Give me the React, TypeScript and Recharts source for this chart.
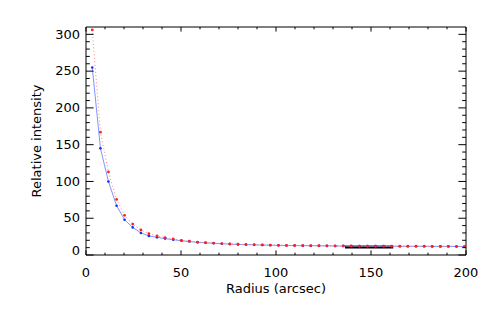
import React from 'react';
import { LineChart, Line, XAxis, YAxis, ReferenceLine, Label } from 'recharts';

const radius = [
  3.3, 7.6, 11.8, 16.1, 20.3, 24.6, 28.9, 33.1, 37.4, 41.6, 45.9, 50.2, 54.4, 58.7, 62.9, 67.2,
  71.5, 75.7, 80.0, 84.2, 88.5, 92.8, 97.0, 101.3, 105.5, 109.8, 114.1, 118.3, 122.6, 126.8,
  131.1, 135.4, 139.6, 143.9, 148.1, 152.4, 156.7, 160.9, 165.2, 169.4, 173.7, 178.0, 182.2,
  186.5, 190.7, 195.0, 199.3,
];
const redProfile = [
  306, 167, 113, 75.5, 54, 42, 34, 29, 26, 23.7, 21.8, 20, 18.8, 17.6, 16.9, 16.2,
  15.6, 15.1, 14.6, 14.3, 14.0, 13.7, 13.5, 13.2, 13.0, 12.9, 12.8, 12.7, 12.6, 12.5,
  12.4, 12.3, 12.3, 12.2, 12.2, 12.1, 12.1, 12.0, 12.0, 11.9, 11.9, 11.9, 11.8,
  11.8, 11.8, 11.7, 11.7,
];
const blueProfile = [
  255, 145, 100, 67, 48, 37.5, 30, 26, 24, 22.3, 20.8, 19.4, 18.3, 17.2, 16.5, 15.9,
  15.3, 14.8, 14.4, 14.1, 13.8, 13.5, 13.3, 13.1, 12.9, 12.8, 12.7, 12.6, 12.5, 12.4,
  12.3, 12.2, 12.2, 12.1, 12.1, 12.0, 12.0, 11.9, 11.9, 11.8, 11.8, 11.8, 11.7,
  11.7, 11.7, 11.6, 11.6,
];
const backgroundRange = [136.3, 161.7];
const backgroundLevel = 10.8;

const xTicks = [0, 10, 20, 30, 40, 50, 60, 70, 80, 90, 100, 110, 120, 130, 140, 150, 160, 170, 180, 190, 200];
const yTicks = [
  0, 10, 20, 30, 40, 50, 60, 70, 80, 90, 100, 110, 120, 130, 140, 150, 160, 170, 180, 190, 200,
  210, 220, 230, 240, 250, 260, 270, 280, 290, 300,
];

const data = radius.map((r, i) => ({ r, red: redProfile[i], blue: blueProfile[i] }));

const FONT = '"DejaVu Sans", sans-serif';

const renderBottomTick = (props: any) => {
  const { x, y, payload } = props;
  const major = payload.value % 50 === 0;
  return (
    <g key={`b-${payload.value}`}>
      <path d={`M${x},${y}V${y - (major ? 4.6 : 2.3)}`} stroke="#000" strokeWidth={1} fill="none" />
      {major && (
        <text x={x} y={y + 21.5} textAnchor="middle" fontSize={13} fontFamily={FONT} fill="#000">
          {payload.value}
        </text>
      )}
    </g>
  );
};

const renderTopTick = (props: any) => {
  const { x, y, payload } = props;
  const major = payload.value % 50 === 0;
  return (
    <path key={`t-${payload.value}`} d={`M${x},${y}V${y + (major ? 4.6 : 2.3)}`} stroke="#000" strokeWidth={1} fill="none" />
  );
};

const renderLeftTick = (props: any) => {
  const { x, y, payload } = props;
  const major = payload.value % 50 === 0;
  const shift = payload.value === 0 ? -4 : 0;
  return (
    <g key={`l-${payload.value}`}>
      <path d={`M${x},${y}H${x + (major ? 7.6 : 3.8)}`} stroke="#000" strokeWidth={1} fill="none" />
      {major && (
        <text x={x - 6} y={y + 4.2 + shift} textAnchor="end" fontSize={13} fontFamily={FONT} fill="#000">
          {payload.value}
        </text>
      )}
    </g>
  );
};

const renderRightTick = (props: any) => {
  const { x, y, payload } = props;
  const major = payload.value % 50 === 0;
  return (
    <path key={`r-${payload.value}`} d={`M${x},${y}H${x - (major ? 7.6 : 3.8)}`} stroke="#000" strokeWidth={1} fill="none" />
  );
};

export default function App() {
  return (
    <div style={{ position: 'absolute', left: 0, top: 0, width: 491, height: 310, background: '#fff' }}>
      <LineChart width={491} height={310} data={data} margin={{ top: 26, right: 24, bottom: 15, left: 0 }}>
        <XAxis
          dataKey="r"
          type="number"
          domain={[0, 200]}
          ticks={xTicks}
          interval={0}
          height={40}
          tickSize={0}
          tickMargin={0}
          tickLine={false}
          tick={renderBottomTick}
          axisLine={{ stroke: '#000' }}
          allowDataOverflow
        >
          <Label
            value="Radius (arcsec)"
            position="insideBottom"
            offset={2}
            style={{ fontSize: 13, fontFamily: FONT, fill: '#000' }}
          />
        </XAxis>
        <XAxis
          xAxisId="top"
          orientation="top"
          dataKey="r"
          type="number"
          domain={[0, 200]}
          ticks={xTicks}
          interval={0}
          height={1}
          tickSize={0}
          tickMargin={0}
          tickLine={false}
          tick={renderTopTick}
          axisLine={{ stroke: '#000' }}
          allowDataOverflow
        />
        <YAxis
          type="number"
          domain={[0, 310]}
          ticks={yTicks}
          interval={0}
          width={86}
          tickSize={0}
          tickMargin={0}
          tickLine={false}
          tick={renderLeftTick}
          axisLine={{ stroke: '#000' }}
          allowDataOverflow
        >
          <Label
            content={() => (
              <text
                x={41}
                y={141}
                transform="rotate(-90 41 141)"
                textAnchor="middle"
                fontSize={13}
                fontFamily={FONT}
                fill="#000"
              >
                Relative intensity
              </text>
            )}
          />
        </YAxis>
        <YAxis
          yAxisId="r"
          orientation="right"
          type="number"
          domain={[0, 310]}
          ticks={yTicks}
          interval={0}
          width={1}
          tickSize={0}
          tickMargin={0}
          tickLine={false}
          tick={renderRightTick}
          axisLine={{ stroke: '#000' }}
          allowDataOverflow
        />
        <ReferenceLine
          segment={[
            { x: backgroundRange[0], y: backgroundLevel },
            { x: backgroundRange[1], y: backgroundLevel },
          ]}
          stroke="#000"
          strokeWidth={3}
        />
        <Line
          dataKey="blue"
          type="linear"
          stroke="#7f95ff"
          strokeWidth={1}
          dot={{ r: 1.3, fill: '#1030ff', stroke: 'none' }}
          isAnimationActive={false}
        />
        <Line
          dataKey="red"
          xAxisId="top"
          yAxisId="r"
          type="linear"
          stroke="#ff8080"
          strokeWidth={1}
          strokeDasharray="1 2.5"
          dot={{ r: 1.4, fill: '#ff2020', stroke: 'none' }}
          isAnimationActive={false}
        />
      </LineChart>
    </div>
  );
}
